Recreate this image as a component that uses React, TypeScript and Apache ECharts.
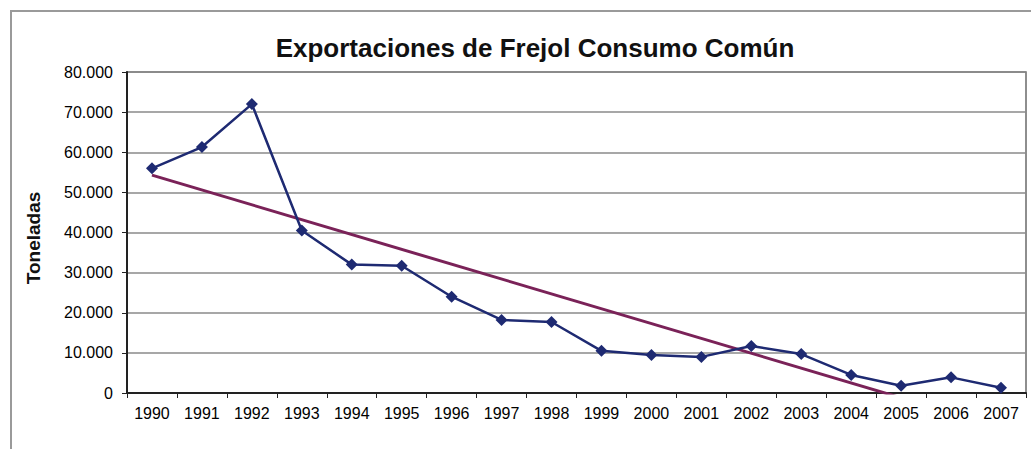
import React, { useEffect, useRef } from "react";
import * as echarts from "echarts";

const years = ["1990","1991","1992","1993","1994","1995","1996","1997","1998","1999","2000","2001","2002","2003","2004","2005","2006","2007"];
const exportsTon = [56000, 61300, 72000, 40500, 32000, 31700, 24000, 18200, 17700, 10500, 9500, 9000, 11700, 9700, 4500, 1800, 3900, 1300];
// linear trend endpoints (1990 and 2007); clipped at 0 by the axis
const trendStart = 54300;
const trendEnd = -8600;
const yTicks = { min: 0, max: 80000, interval: 10000 };

const title = "Exportaciones de Frejol Consumo Común";
const yName = "Toneladas";

export default function App() {
  const ref = useRef<HTMLDivElement>(null);
  useEffect(() => {
    if (!ref.current) return;
    const chart = echarts.init(ref.current, null, { renderer: "svg" });
    const trendData = years.map((_, i) => (i === 0 ? trendStart : i === years.length - 1 ? trendEnd : null));
    chart.setOption({
      animation: false,
      backgroundColor: "#ffffff",
      textStyle: { fontFamily: "Liberation Sans, Arial, sans-serif" },
      title: {
        text: title,
        left: 530,
        textAlign: "center",
        top: 30,
        textStyle: { fontSize: 26, fontWeight: "bold", color: "#111", fontFamily: "Liberation Sans, Arial, sans-serif" },
      },
      graphic: [
        {
          type: "rect",
          shape: { x: 11, y: 11, width: 1060, height: 480 },
          style: { fill: "none", stroke: "#9a9a9a", lineWidth: 2 },
          silent: true,
        },
        {
          type: "text",
          x: 33,
          y: 238,
          rotation: Math.PI / 2,
          style: {
            text: yName,
            fontSize: 19,
            fontWeight: "bold",
            fill: "#111",
            align: "center",
            verticalAlign: "middle",
            fontFamily: "Liberation Sans, Arial, sans-serif",
          },
        },
      ],
      grid: {
        left: 127,
        right: 5,
        top: 72,
        bottom: 56,
        show: true,
        borderColor: "#6a6a6a",
        borderWidth: 1.5,
        containLabel: false,
      },
      xAxis: {
        type: "category",
        data: years,
        boundaryGap: true,
        axisLine: { lineStyle: { color: "#222", width: 2 } },
        axisTick: { show: true, length: 5, lineStyle: { color: "#222" } },
        axisLabel: { fontSize: 16, color: "#000", margin: 12 },
        splitLine: { show: false },
      },
      yAxis: {
        type: "value",
        min: yTicks.min,
        max: yTicks.max,
        interval: yTicks.interval,
        axisLine: { show: true, lineStyle: { color: "#222", width: 2 } },
        axisTick: { show: true, length: 5, lineStyle: { color: "#222" } },
        axisLabel: {
          fontSize: 16,
          color: "#000",
          margin: 14,
          formatter: (v: number) => (v === 0 ? "0" : `${Math.round(v / 1000)}.000`),
        },
        splitLine: { show: true, lineStyle: { color: "#8a8a8a", width: 1.5 } },
      },
      series: [
        {
          type: "line",
          data: exportsTon,
          symbol: "diamond",
          symbolSize: 12,
          itemStyle: { color: "#1e2a72" },
          lineStyle: { color: "#1e2a72", width: 2.5 },
          z: 3,
        },
        {
          type: "line",
          data: trendData,
          connectNulls: true,
          symbol: "none",
          clip: true,
          lineStyle: { color: "#7a2258", width: 3 },
          z: 2,
        },
      ],
    });
    return () => chart.dispose();
  }, []);
  return <div ref={ref} style={{ position: "absolute", left: 0, top: 0, width: 1031, height: 449 }} />;
}
